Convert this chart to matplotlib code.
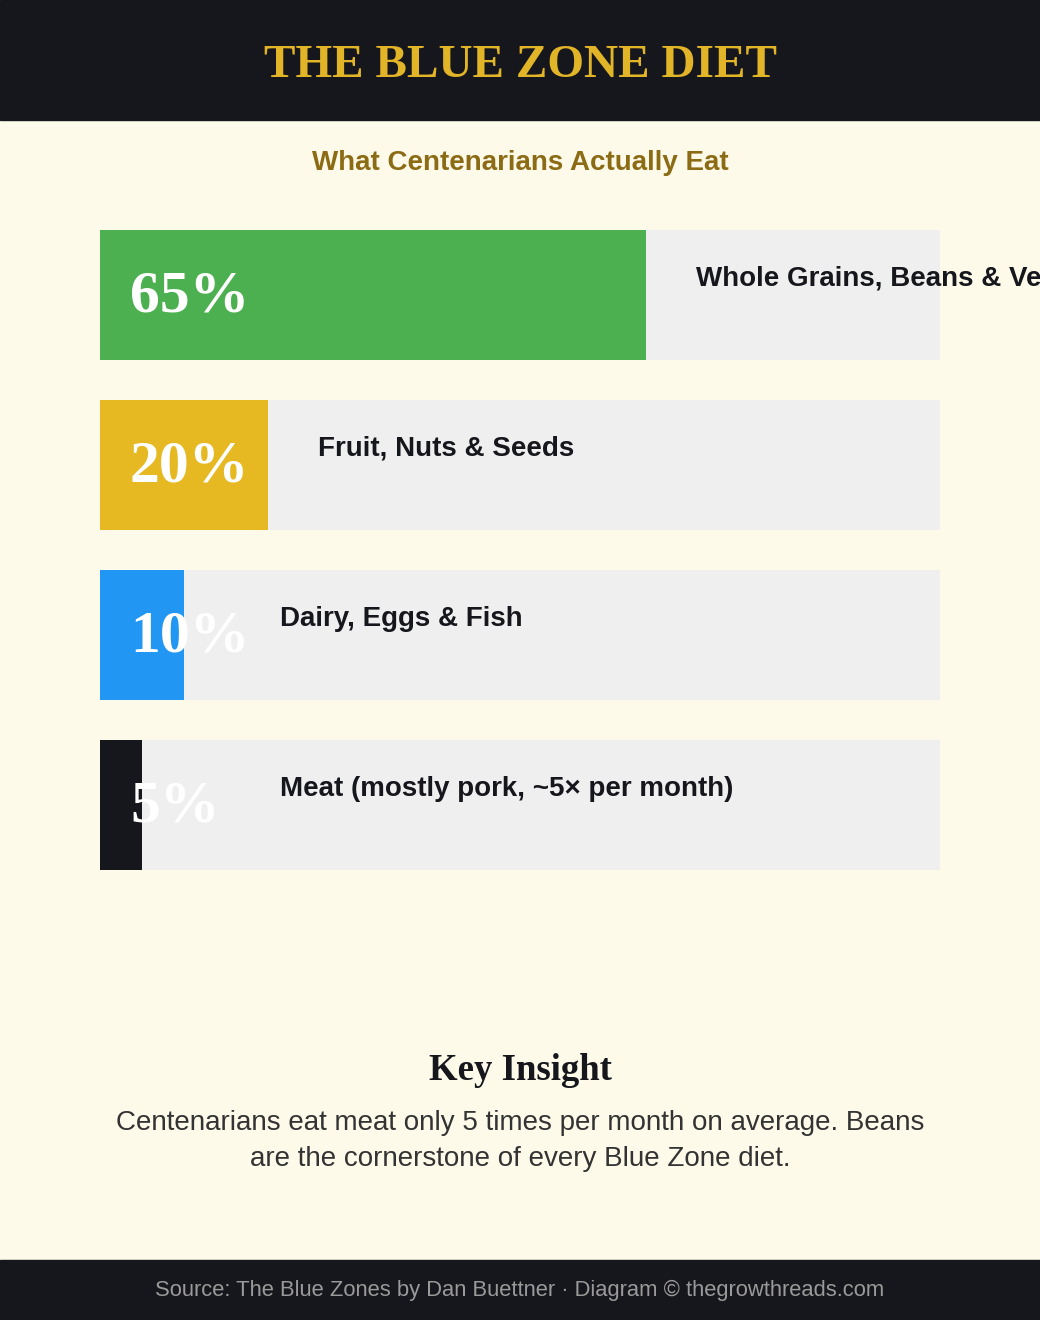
import matplotlib.pyplot as plt
from matplotlib.patches import Rectangle

# data
categories = ["Whole Grains, Beans & Vegetables", "Fruit, Nuts & Seeds",
              "Dairy, Eggs & Fish", "Meat (mostly pork, ~5\u00d7 per month)"]
shares = [65, 20, 10, 5]
bar_colors = ["#4CAF50", "#E6B923", "#2196F3", "#16171C"]

title = "THE BLUE ZONE DIET"
subtitle = "What Centenarians Actually Eat"
insight_title = "Key Insight"
insight_lines = ["Centenarians eat meat only 5 times per month on average. Beans",
                 "are the cornerstone of every Blue Zone diet."]
footer = "Source: The Blue Zones by Dan Buettner \u00b7 Diagram \u00a9 thegrowthreads.com"

W, H = 1040, 1320
DARK = "#16171C"
CREAM = "#FEFAEA"
TRACK = "#EFEFEF"

fig = plt.figure(figsize=(W / 100, H / 100), dpi=100, facecolor=CREAM)

# background axes in pixel coordinates
bg = fig.add_axes([0, 0, 1, 1])
bg.set_xlim(0, W)
bg.set_ylim(H, 0)
bg.axis("off")
bg.add_patch(Rectangle((0, 0), W, 120, color=DARK, zorder=0))
bg.add_patch(Rectangle((0, 1260), W, 60, color=DARK, zorder=0))

bg.text(W / 2, 66, title, ha="center", va="center", color="#E2B427",
        fontsize=34, fontweight="bold", family="Liberation Serif")
bg.text(W / 2, 163, subtitle, ha="center", va="center", color="#8B6B14",
        fontsize=20, fontweight="bold", family="Liberation Sans")
bg.text(W / 2, 1071, insight_title, ha="center", va="center", color=DARK,
        fontsize=26.5, fontweight="bold", family="Liberation Serif")
for i, line in enumerate(insight_lines):
    bg.text(W / 2, 1123 + 36 * i, line, ha="center", va="center", color="#333333",
            fontsize=20, family="Liberation Sans")
bg.text(W / 2, 1290, footer, ha="center", va="center", color="#9A9A9A",
        fontsize=15.8, family="Liberation Sans")

# bar axes: x in percent, spans pixel 100..940, y from 230..870
left, right, top, bottom = 100, 940, 230, 870
ax = fig.add_axes([left / W, 1 - bottom / H, (right - left) / W, (bottom - top) / H])
ax.set_facecolor("none")
slot = 170.0
h = 130.0 / slot
ypos = list(range(len(shares)))
ax.set_xlim(0, 100)
ax.set_ylim(len(shares) - 1 + h / 2, -h / 2)
ax.axis("off")

px = 100.0 / (right - left)  # percent per pixel
ax.barh(ypos, [100] * len(shares), height=h, color=TRACK, zorder=1)
ax.barh(ypos, shares, height=h, color=bar_colors, zorder=2)

for y, v, cat in zip(ypos, shares, categories):
    ax.text(30 * px, y + 3 / slot, f"{v}%", ha="left", va="center", color="white",
            fontsize=43, fontweight="bold", family="Liberation Serif", zorder=3)
    lx = max(v + 50 * px, 180 * px)
    ax.text(lx, y - 16 / slot, cat, ha="left", va="center", color=DARK,
            fontsize=20, fontweight="bold", family="Liberation Sans", zorder=3,
            clip_on=False)

fig.savefig("out.png", dpi=100, facecolor=CREAM)
